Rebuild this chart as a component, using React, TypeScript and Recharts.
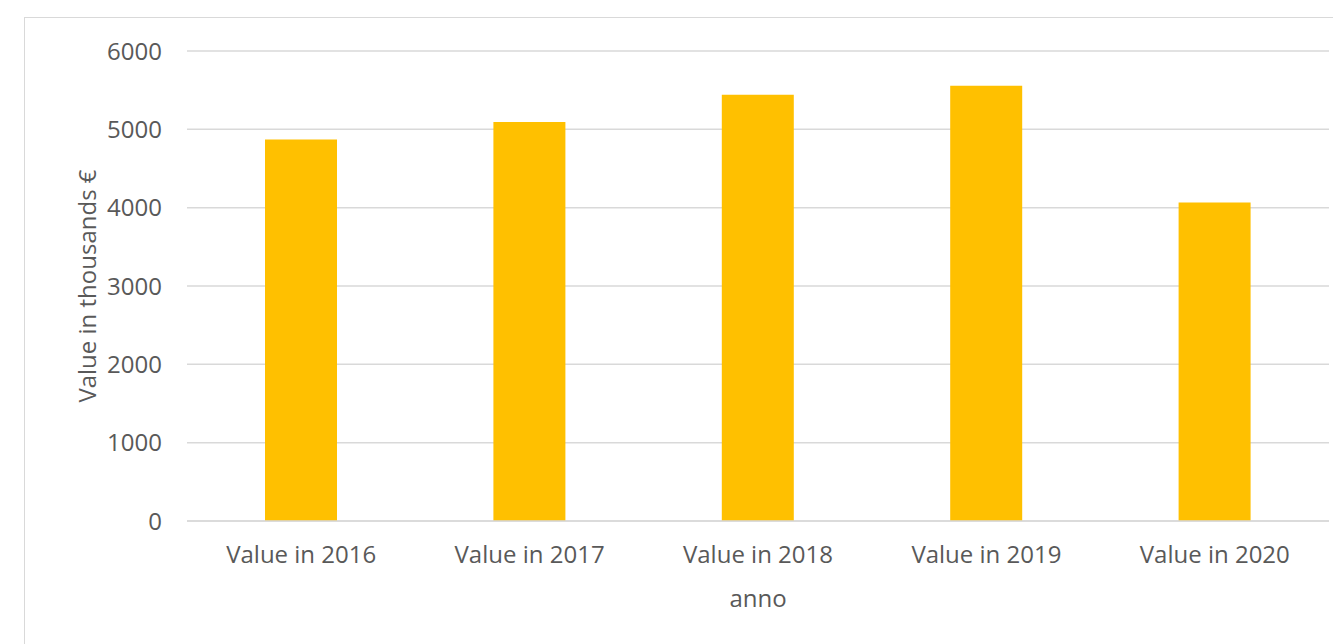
import { BarChart, Bar, XAxis, YAxis, CartesianGrid } from "recharts";

const categories = [
  "Value in 2016",
  "Value in 2017",
  "Value in 2018",
  "Value in 2019",
  "Value in 2020",
];
const values = [4870, 5095, 5440, 5555, 4065];
const yTicks = [0, 1000, 2000, 3000, 4000, 5000, 6000];

const data = categories.map((name, i) => ({ name, value: values[i] }));

const textColor = "#595959";
const font = "'Open Sans', sans-serif";

export default function App() {
  return (
    <div
      style={{
        position: "fixed",
        left: 0,
        top: 0,
        width: 1333,
        height: 644,
        overflow: "hidden",
        background: "#fff",
      }}
    >
      <div
        style={{
          position: "absolute",
          left: 24,
          top: 17,
          width: 2000,
          height: 2000,
          border: "1.5px solid #d9d9d9",
        }}
      />
      <div style={{ position: "absolute", left: 0, top: 0 }}>
        <BarChart
          width={1333}
          height={644}
          data={data}
          margin={{ top: 51, right: 4, left: 0, bottom: 0 }}
        >
          <CartesianGrid vertical={false} stroke="#d9d9d9" strokeWidth={1.5} />
          <XAxis
            dataKey="name"
            height={123}
            tickLine={false}
            tickSize={0}
            tickMargin={25}
            axisLine={{ stroke: "#d9d9d9", strokeWidth: 1.5 }}
            tick={{ fontSize: 24, fontFamily: font, fill: textColor }}
            interval={0}
            label={{
              content: ({ viewBox }: any) => (
                <text
                  x={viewBox.x + viewBox.width / 2}
                  y={viewBox.y + 86}
                  textAnchor="middle"
                  fontSize={24}
                  fontFamily={font}
                  fill={textColor}
                >
                  anno
                </text>
              ),
            }}
          />
          <YAxis
            width={187}
            domain={[0, 6000]}
            ticks={yTicks}
            tickLine={false}
            axisLine={false}
            tickSize={0}
            tickMargin={25}
            tick={{ fontSize: 24, fontFamily: font, fill: textColor }}
            label={{
              content: ({ viewBox }: any) => {
                const x = viewBox.x + 96;
                const y = viewBox.y + viewBox.height / 2;
                return (
                  <text
                    x={x}
                    y={y}
                    transform={`rotate(-90 ${x} ${y})`}
                    textAnchor="middle"
                    fontSize={24}
                    fontFamily={font}
                    fill={textColor}
                  >
                    Value in thousands €
                  </text>
                );
              },
            }}
          />
          <Bar
            dataKey="value"
            fill="#FFC000"
            barSize={72}
            isAnimationActive={false}
          />
        </BarChart>
      </div>
    </div>
  );
}
